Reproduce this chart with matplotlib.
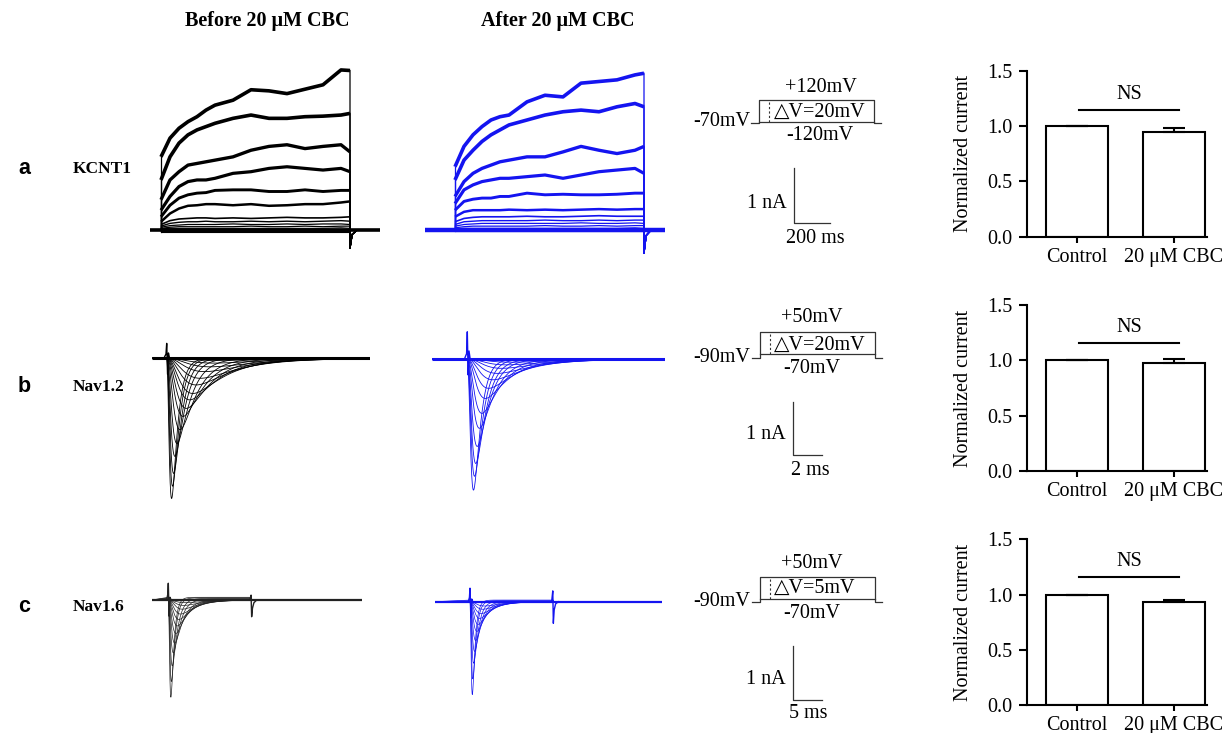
"""Before/after 20 uM CBC: KCNT1, Nav1.2, Nav1.6 current traces + normalized bars."""
import numpy as np
import matplotlib
matplotlib.use("Agg")
import matplotlib.pyplot as plt

W, H = 1227, 733
plt.rcParams["font.family"] = ["Liberation Serif", "DejaVu Sans"]

BLACK = "#000000"
BLUE = "#1414f0"

# ---- KCNT1 (ms, nA) ----
K_T = [0, 50, 100, 150, 200, 250, 300, 400, 500, 600, 700, 800, 900, 1000, 1050]
K_BEFORE = [
    [1.33, 1.67, 1.85, 1.97, 2.06, 2.18, 2.27, 2.36, 2.55, 2.53, 2.48, 2.56, 2.64, 2.91, 2.90],
    [0.91, 1.33, 1.58, 1.73, 1.82, 1.88, 1.94, 2.03, 2.09, 2.03, 2.03, 2.06, 2.07, 2.09, 2.12],
    [0.55, 0.91, 1.06, 1.18, 1.21, 1.24, 1.27, 1.33, 1.45, 1.52, 1.55, 1.48, 1.52, 1.55, 1.42],
    [0.36, 0.61, 0.79, 0.88, 0.91, 0.91, 0.94, 1.03, 1.06, 1.12, 1.15, 1.12, 1.09, 1.12, 1.06],
    [0.24, 0.45, 0.58, 0.64, 0.67, 0.68, 0.72, 0.73, 0.73, 0.70, 0.70, 0.73, 0.70, 0.72, 0.72],
    [0.15, 0.30, 0.39, 0.44, 0.45, 0.47, 0.47, 0.45, 0.47, 0.44, 0.45, 0.47, 0.47, 0.50, 0.52],
    [0.10, 0.17, 0.20, 0.21, 0.22, 0.22, 0.21, 0.22, 0.21, 0.22, 0.23, 0.22, 0.22, 0.23, 0.24],
    [0.07, 0.12, 0.14, 0.15, 0.15, 0.16, 0.15, 0.15, 0.16, 0.15, 0.16, 0.15, 0.16, 0.17, 0.16],
    [0.05, 0.08, 0.09, 0.10, 0.10, 0.10, 0.10, 0.11, 0.10, 0.10, 0.11, 0.10, 0.11, 0.11, 0.10],
    [0.03, 0.05, 0.06, 0.06, 0.06, 0.06, 0.06, 0.06, 0.07, 0.06, 0.06, 0.07, 0.06, 0.07, 0.07],
    [0.02, 0.03, 0.03, 0.03, 0.03, 0.03, 0.03, 0.03, 0.03, 0.03, 0.03, 0.03, 0.03, 0.04, 0.03],
    [-0.01, -0.01, -0.01, -0.01, -0.01, -0.01, -0.01, -0.01, -0.01, -0.01, -0.01, -0.01, -0.01, -0.01, -0.01],
    [-0.03, -0.03, -0.03, -0.03, -0.03, -0.03, -0.03, -0.03, -0.03, -0.03, -0.03, -0.03, -0.03, -0.03, -0.03],
]
K_AFTER = [
    [1.15, 1.52, 1.73, 1.88, 2.00, 2.06, 2.09, 2.33, 2.45, 2.42, 2.67, 2.70, 2.73, 2.82, 2.85],
    [0.91, 1.27, 1.45, 1.61, 1.73, 1.82, 1.91, 2.00, 2.09, 2.15, 2.18, 2.15, 2.24, 2.30, 2.24],
    [0.61, 0.88, 1.03, 1.12, 1.18, 1.24, 1.27, 1.33, 1.33, 1.42, 1.52, 1.45, 1.39, 1.45, 1.52],
    [0.48, 0.73, 0.82, 0.88, 0.91, 0.94, 0.94, 0.97, 1.00, 0.94, 1.00, 1.06, 1.09, 1.12, 1.03],
    [0.36, 0.52, 0.56, 0.58, 0.58, 0.61, 0.61, 0.67, 0.64, 0.65, 0.64, 0.64, 0.65, 0.67, 0.67],
    [0.24, 0.33, 0.36, 0.36, 0.36, 0.36, 0.37, 0.36, 0.37, 0.36, 0.37, 0.38, 0.37, 0.38, 0.38],
    [0.15, 0.21, 0.23, 0.24, 0.24, 0.24, 0.24, 0.25, 0.24, 0.24, 0.25, 0.26, 0.25, 0.25, 0.25],
    [0.10, 0.15, 0.16, 0.17, 0.17, 0.17, 0.17, 0.17, 0.18, 0.17, 0.17, 0.18, 0.17, 0.18, 0.18],
    [0.07, 0.10, 0.11, 0.12, 0.12, 0.12, 0.12, 0.12, 0.12, 0.12, 0.13, 0.12, 0.12, 0.13, 0.12],
    [0.04, 0.06, 0.07, 0.07, 0.07, 0.07, 0.07, 0.07, 0.08, 0.07, 0.07, 0.08, 0.07, 0.08, 0.08],
    [0.02, 0.03, 0.03, 0.03, 0.03, 0.03, 0.03, 0.03, 0.03, 0.03, 0.03, 0.03, 0.03, 0.04, 0.03],
    [0.00, 0.00, 0.00, 0.00, 0.00, 0.00, 0.00, 0.00, 0.00, 0.00, 0.00, 0.00, 0.00, 0.00, 0.00],
    [-0.02, -0.02, -0.02, -0.02, -0.02, -0.02, -0.02, -0.02, -0.02, -0.02, -0.02, -0.02, -0.02, -0.02, -0.02],
]
K_TAIL_T = [1050, 1062, 1090]
K_TAIL_BEFORE = [-0.33, -0.08, 0.0]
K_TAIL_AFTER = [-0.42, -0.10, 0.0]

# ---- Nav sweeps: peak (nA), activation / inactivation time constants (ms) ----
NA12_B_PEAK = [2.63, 2.40, 2.16, 1.84, 1.60, 1.34, 1.09, 0.94, 0.78, 0.66, 0.50, 0.375, 0.25, 0.16, 0.09, 0.04]
NA12_B_TM = [0.16, 0.20, 0.23, 0.26, 0.32, 0.42, 0.52, 0.63, 0.73, 0.84, 0.95, 1.10, 1.27, 1.50, 1.65, 1.80]
NA12_B_TH = [0.40, 0.45, 0.55, 0.70, 0.90, 1.15, 1.40, 1.65, 1.95, 2.20, 2.45, 2.75, 3.00, 3.30, 3.50, 3.60]
NA12_A_PEAK = [2.46, 2.20, 1.96, 1.64, 1.30, 1.02, 0.74, 0.55, 0.39, 0.27, 0.175, 0.11, 0.06]
NA12_A_TM = [0.22, 0.25, 0.28, 0.32, 0.38, 0.45, 0.55, 0.65, 0.80, 0.95, 1.10, 1.30, 1.50]
NA12_A_TH = [0.45, 0.55, 0.68, 0.82, 1.05, 1.30, 1.65, 1.95, 2.30, 2.60, 2.90, 3.10, 3.40]

NA16_B_PEAK = [1.85, 1.55, 1.25, 1.00, 0.80, 0.62, 0.48, 0.36, 0.26, 0.17, 0.10, 0.05]
NA16_B_TM = [0.22, 0.26, 0.32, 0.40, 0.50, 0.60, 0.72, 0.85, 1.00, 1.15, 1.30, 1.45]
NA16_B_TH = [0.50, 0.60, 0.85, 1.10, 1.40, 1.70, 2.00, 2.30, 2.60, 2.90, 3.10, 3.30]
NA16_B_LEAK = [0.05, 0.04, 0.03, 0.02, 0, 0, 0, 0, 0, 0, 0, 0]
NA16_A_PEAK = [1.75, 1.45, 1.15, 0.92, 0.72, 0.55, 0.42, 0.31, 0.22, 0.14, 0.08]
NA16_A_TM = [0.20, 0.24, 0.30, 0.38, 0.46, 0.55, 0.65, 0.78, 0.90, 1.05, 1.20]
NA16_A_TH = [0.45, 0.55, 0.75, 0.95, 1.20, 1.50, 1.80, 2.10, 2.40, 2.70, 3.00]
NA16_A_LEAK = [0.03, 0.02, 0.01, 0, 0, 0, 0, 0, 0, 0, 0]
NA16_PULSE = 14.7

# capacitive artifacts (ms, nA)
ART12_T = [-0.2, -0.05, 0.0, 0.06, 0.12, 0.2]
ART12_B = [0.0, 0.08, 0.28, -0.30, 0.10, 0.0]
ART12_A = [0.0, 0.10, 0.51, -0.30, 0.15, 0.0]
ART16_T = [-0.3, -0.1, 0.0, 0.15, 0.3, 0.5]
ART16_B = [0.0, 0.10, 0.31, -0.30, 0.05, 0.0]
ART16_A = [0.0, 0.08, 0.25, -0.30, 0.05, 0.0]
END16_T = [14.4, 14.6, 14.7, 14.85, 15.1, 15.6]
END16_B = [0.0, 0.09, -0.31, -0.15, -0.05, 0.0]
END16_A = [0.0, 0.20, -0.40, -0.15, -0.04, 0.0]

# scale bars
SCALE_T = [200, 2, 5]      # ms
SCALE_I = 1                # nA

# ---- bar charts ----
BAR_LABELS = ["Control", "20 \u03bcM CBC"]
BAR_A = [1.0, 0.943]
ERR_A = [0.0, 0.037]
BAR_B = [1.0, 0.98]
ERR_B = [0.0, 0.03]
BAR_C = [1.0, 0.935]
ERR_C = [0.0, 0.015]
NS_LINE = [1.145, 1.16, 1.155]

fig = plt.figure(figsize=(W / 100, H / 100), dpi=100, facecolor="white")


def px_axes(x0, y0, x1, y1):
    return fig.add_axes([x0 / W, 1 - y1 / H, (x1 - x0) / W, (y1 - y0) / H])


def trace_axes(org, scale, xlim, ylim):
    ox, oy = org
    sx, sy = scale
    ax = px_axes(ox + xlim[0] * sx, oy - ylim[1] * sy, ox + xlim[1] * sx, oy - ylim[0] * sy)
    ax.set_xlim(xlim)
    ax.set_ylim(ylim)
    ax.axis("off")
    return ax


def label(x, y, s, **kw):
    kw.setdefault("ha", "center")
    kw.setdefault("va", "center")
    kw.setdefault("fontsize", 14.5)
    fig.text(x / W, 1 - y / H, s, **kw)


K_LW = [2.6, 2.6, 2.4, 2.3, 2.1, 1.8, 1.2, 1.0, 0.9, 0.9, 0.8, 0.8, 0.8]


def draw_kcnt(ax, sweeps, tail, color, xlim, base_lw):
    ax.plot(xlim, [0, 0], color=color, lw=base_lw, solid_capstyle="butt")
    for vals, lw in zip(sweeps, K_LW):
        # thin jumps at pulse on/off, thick (noisy-looking) plateau
        ax.plot([0, 0], [0, vals[0]], color=color, lw=0.9)
        ax.plot([K_T[-1]] + K_TAIL_T + [xlim[1]], [vals[-1]] + tail + [0], color=color, lw=0.9)
        ax.plot(K_T, vals, color=color, lw=lw, solid_joinstyle="round", solid_capstyle="butt")


def draw_nav(ax, peaks, tms, ths, color, xlim, art_t, art_i, lw, leak=None,
             pulse=None, end_t=None, end_i=None, base_lw=1.8):
    ax.plot(xlim, [0, 0], color=color, lw=base_lw, solid_capstyle="butt")
    t = np.linspace(0, xlim[1], 2000)
    for k, (p, tm, th) in enumerate(zip(peaks, tms, ths)):
        g = (1 - np.exp(-t / tm)) ** 3 * np.exp(-t / th)
        cur = -p * g / g.max()
        if leak is not None:
            cur = cur + np.where(t < pulse, leak[k], 0.0)
        ax.plot(np.r_[xlim[0], t], np.r_[0, cur], color=color, lw=lw)
    ax.plot(art_t, art_i, color=color, lw=1.0)
    if end_t is not None:
        ax.plot(end_t, end_i, color=color, lw=1.0)


# ---- KCNT1 ----
K_SC = (0.18, 55.0)
ax = trace_axes((161, 230), K_SC, (-62, 1217), (-0.6, 3.3))
draw_kcnt(ax, K_BEFORE, K_TAIL_BEFORE, BLACK, (-62, 1217), 2.6)
ax = trace_axes((455, 230), K_SC, (-167, 1167), (-0.6, 3.3))
draw_kcnt(ax, K_AFTER, K_TAIL_AFTER, BLUE, (-167, 1167), 3.2)

# ---- Nav1.2 ----
N12_SC = (14.3, 53.3)
ax = trace_axes((166.7, 358.3), N12_SC, (-1.05, 14.2), (-2.9, 0.6))
draw_nav(ax, NA12_B_PEAK, NA12_B_TM, NA12_B_TH, BLACK, (-1.05, 14.2), ART12_T, ART12_B, 0.6,
         base_lw=2.2)
ax = trace_axes((467.3, 359), N12_SC, (-2.5, 13.8), (-2.9, 0.6))
draw_nav(ax, NA12_A_PEAK, NA12_A_TM, NA12_A_TH, BLUE, (-2.5, 13.8), ART12_T, ART12_A, 0.6,
         base_lw=2.2)

# ---- Nav1.6 ----
N16_SC = (5.67, 54.0)
ax = trace_axes((168.3, 600), N16_SC, (-2.9, 34.1), (-2.1, 0.5))
draw_nav(ax, NA16_B_PEAK, NA16_B_TM, NA16_B_TH, "#222222", (-2.9, 34.1), ART16_T, ART16_B, 0.5,
         leak=NA16_B_LEAK, pulse=NA16_PULSE, end_t=END16_T, end_i=END16_B, base_lw=1.6)
ax = trace_axes((470, 601.7), N16_SC, (-6.2, 33.8), (-2.1, 0.5))
draw_nav(ax, NA16_A_PEAK, NA16_A_TM, NA16_A_TH, BLUE, (-6.2, 33.8), ART16_T, ART16_A, 0.5,
         leak=NA16_A_LEAK, pulse=NA16_PULSE, end_t=END16_T, end_i=END16_A, base_lw=1.6)

# ---- scale bars ----
for corner, sc, tlen in [((794, 223), K_SC, SCALE_T[0]),
                         ((793, 455), N12_SC, SCALE_T[1]),
                         ((793.3, 700), N16_SC, SCALE_T[2])]:
    ax = trace_axes(corner, sc, (0, tlen), (0, SCALE_I))
    ax.plot([0, 0, tlen], [SCALE_I, 0, 0], color="#333333", lw=0.9, clip_on=False)

# ---- voltage protocol schematics ----
PROTO_DUR = [8, 115, 7]     # pre-hold, step, post-hold (schematic units)
PROTO_DASH = 10             # dashed sweep marker inside the box
for (x0, ytop, yhold), bottom in [((751, 100, 123.3), 0.04),
                                  ((752, 331.7, 357.7), 0.13),
                                  ((752, 576.7, 601.7), 0.11)]:
    total = sum(PROTO_DUR)
    ax = px_axes(x0, ytop, x0 + total, yhold)
    ax.set_xlim(0, total)
    ax.set_ylim(0, 1)
    ax.axis("off")
    on, off = PROTO_DUR[0], PROTO_DUR[0] + PROTO_DUR[1]
    kw = dict(color="#333333", lw=0.9, clip_on=False)
    ax.plot([0, on, on, off, off, total], [0, 0, 1, 1, 0, 0], **kw)
    ax.plot([on, off], [bottom, bottom], **kw)
    ax.plot([on + PROTO_DASH] * 2, [bottom, 1], color="#333333", lw=0.8, ls=(0, (2, 2)))

# ---- texts ----
label(267, 21, "Before 20 \u03bcM CBC", fontweight="bold")
label(558, 21, "After 20 \u03bcM CBC", fontweight="bold")
for y, letter, name in [(168, "a", "KCNT1"), (386, "b", "Nav1.2"), (606, "c", "Nav1.6")]:
    label(24, y, letter, family=["Liberation Sans", "DejaVu Sans"], fontweight="bold", fontsize=15.5)
    label(73, y + 1, name, ha="left", fontweight="bold", fontsize=12.5)

label(821, 87, "+120mV")
label(820, 112, "\u25b3V=20mV")
label(750, 122, "-70mV", ha="right")
label(820, 136, "-120mV")
label(812, 318, "+50mV")
label(820, 345, "\u25b3V=20mV")
label(750, 357, "-90mV", ha="right")
label(812, 368, "-70mV")
label(812, 563, "+50mV")
label(815, 588, "\u25b3V=5mV")
label(750, 601, "-90mV", ha="right")
label(812, 613, "-70mV")

label(787, 204, "1 nA", ha="right")
label(815, 238, "200 ms")
label(786, 435, "1 nA", ha="right")
label(810, 471, "2 ms")
label(786, 680, "1 nA", ha="right")
label(808, 713, "5 ms")

# ---- normalized current bars ----
X = [0, 1]
for (ytop, ybot), vals, errs, ns in [((70.7, 236.7), BAR_A, ERR_A, NS_LINE[0]),
                                     ((305, 471), BAR_B, ERR_B, NS_LINE[1]),
                                     ((539.3, 705), BAR_C, ERR_C, NS_LINE[2])]:
    ax = px_axes(1027, ytop, 1207, ybot)
    ax.bar(X, vals, width=0.64, color="white", edgecolor="black", linewidth=1.5, zorder=2)
    ax.errorbar(X, vals, yerr=[[0, 0], errs], fmt="none", ecolor="black",
                elinewidth=1.5, capsize=8, capthick=1.5, zorder=3)
    ax.plot([0.02, 1.05], [ns, ns], color="black", lw=1.5)
    ax.text(0.535, ns + 0.14, "NS", ha="center", va="center", fontsize=14.5)
    ax.set_xlim(-0.515, 1.34)
    ax.set_ylim(0, 1.5)
    ax.set_yticks([0, 0.5, 1.0, 1.5])
    ax.set_yticklabels(["0.0", "0.5", "1.0", "1.5"])
    ax.set_xticks(X)
    ax.set_xticklabels(BAR_LABELS)
    for s in ("top", "right"):
        ax.spines[s].set_visible(False)
    for s in ("left", "bottom"):
        ax.spines[s].set_linewidth(1.5)
    ax.tick_params(axis="y", length=5.8, width=1.5, pad=5, labelsize=14.5)
    ax.tick_params(axis="x", length=4, width=1.5, pad=4, labelsize=14.5)
    label(963, (ytop + ybot) / 2, "Normalized current", rotation=90)

plt.savefig("out.png", dpi=100, facecolor="white")
